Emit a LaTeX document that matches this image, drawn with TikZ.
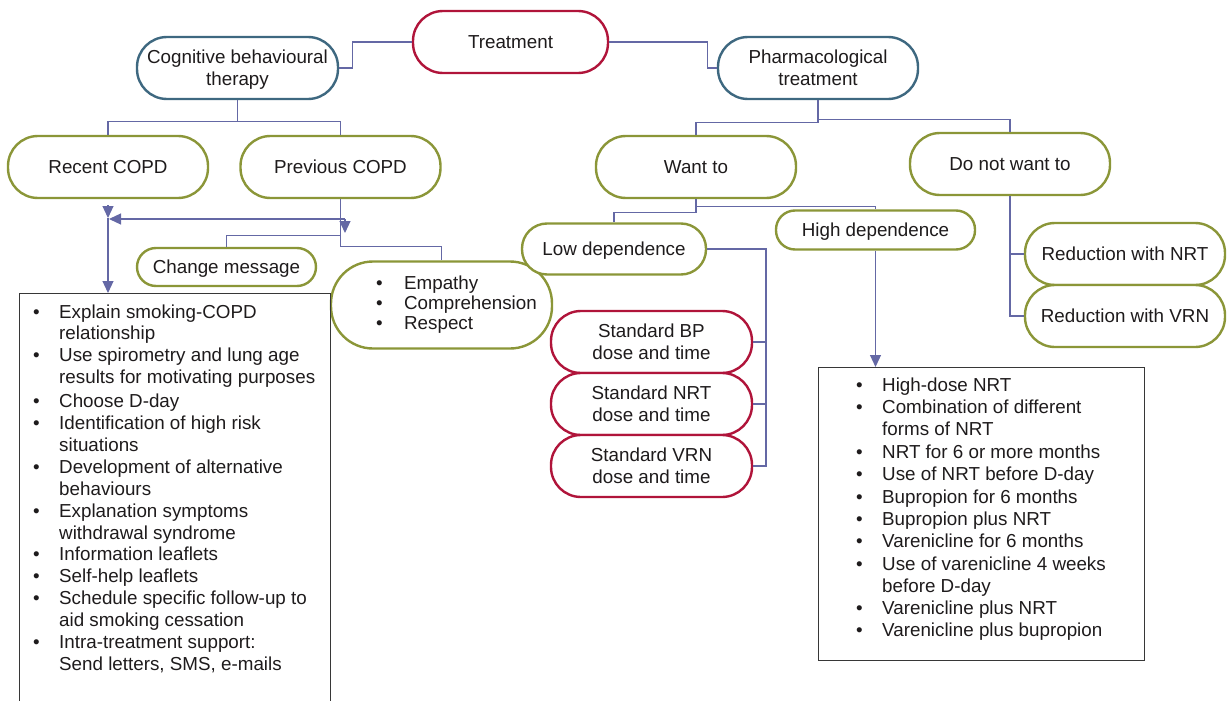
\documentclass[tikz,border=0pt]{standalone}
\usepackage{fontspec}
\setmainfont{Liberation Sans}
\usetikzlibrary{arrows.meta,calc}
\definecolor{cred}{RGB}{176,20,58}
\definecolor{cblue}{RGB}{62,104,128}
\definecolor{colive}{RGB}{139,150,56}
\definecolor{cline}{RGB}{100,104,165}
\definecolor{cbox}{RGB}{55,55,55}
\definecolor{ctext}{RGB}{30,27,28}
\newcommand{\bu}{\makebox[26pt][l]{•}}
\newcommand{\bi}{\hspace*{26pt}}
\begin{document}
\begin{tikzpicture}[x=1pt,y=-1pt,
  every node/.style={font=\fontsize{18.8}{22}\selectfont, text=ctext},
  pill/.style={rectangle, draw, rounded corners=#1pt, line width=2.4pt, fill=white, align=center, inner sep=0pt, text depth=0pt},
  redpill/.style={pill=30, draw=cred, minimum width=200, minimum height=62},
  bluepill/.style={pill=30, draw=cblue, minimum width=201, minimum height=62},
  olivepill/.style={pill=30, draw=colive, minimum width=200, minimum height=62},
  listbox/.style={draw=cbox, line width=1.3pt, anchor=north west, inner sep=0pt},
  conn/.style={draw=cline, line width=1.2pt},
  arr/.style={conn, -{Triangle[length=12pt,width=11pt]}}
]
\useasboundingbox (0,0) rectangle (1229,701);

% top level
\node[redpill, minimum width=195] (treat) at (510.5,42) {Treatment};
\node[bluepill] (cbt) at (237.5,68) {Cognitive behavioural\\therapy};
\node[bluepill, minimum width=200] (pharm) at (818,68) {Pharmacological\\treatment};

% CBT branch
\node[olivepill] (recent) at (108,167) {Recent COPD};
\node[olivepill] (prev) at (340.5,167) {Previous COPD};
\node[pill=19, draw=colive, minimum width=179, minimum height=38] (change) at (226.5,267) {Change message};
\node[pill=42, draw=colive, minimum width=221, minimum height=87, text depth=] (emp) at (441.5,305)
  {\hspace{30pt}\raisebox{-4pt}{\fontsize{18.8}{20}\selectfont\begin{tabular}{@{}l@{}l@{}}
  \makebox[28pt][l]{•} & Empathy\\
  \makebox[28pt][l]{•} & Comprehension\\
  \makebox[28pt][l]{•} & Respect
  \end{tabular}}};

\node[listbox, minimum width=311, minimum height=440] (cbtbox) at (19,293) {};
\node[anchor=base west, inner sep=0pt] (cbtlist) at (33,318) {\parbox[t]{290pt}{\fontsize{18.8}{21.9}\selectfont
\bu Explain smoking-COPD\\
\bi relationship\\
\bu Use spirometry and lung age\\
\bi results for motivating purposes\\[2pt]
\bu Choose D-day\\
\bu Identification of high risk\\
\bi situations\\
\bu Development of alternative\\
\bi behaviours\\
\bu Explanation symptoms\\
\bi withdrawal syndrome\\
\bu Information leaflets\\
\bu Self-help leaflets\\
\bu Schedule specific follow-up to\\
\bi aid smoking cessation\\
\bu Intra-treatment support:\\
\bi Send letters, SMS, e-mails}};

% Pharmacological branch
\node[olivepill] (want) at (696,167) {Want to};
\node[olivepill] (donot) at (1010,164) {Do not want to};
\node[pill=25, draw=colive, minimum width=184, minimum height=51] (low) at (614,249) {Low dependence};
\node[pill=19, draw=colive, minimum width=199, minimum height=39] (high) at (875.5,230) {High dependence};
\node[redpill, minimum width=201] (stdbp) at (651.5,342) {Standard BP\\dose and time};
\node[redpill, minimum width=201] (stdnrt) at (651.5,404) {Standard NRT\\dose and time};
\node[redpill, minimum width=201] (stdvrn) at (651.5,466) {Standard VRN\\dose and time};
\node[olivepill] (rednrt) at (1125,254) {Reduction with NRT};
\node[olivepill] (redvrn) at (1125,316) {Reduction with VRN};

\node[listbox, minimum width=326, minimum height=293] (phbox) at (818,367) {};
\node[anchor=base west, inner sep=0pt] (phlist) at (856,391.5) {\parbox[t]{290pt}{\fontsize{18.8}{22.2}\selectfont
\bu High-dose NRT\\
\bu Combination of different\\
\bi forms of NRT\\
\bu NRT for 6 or more months\\
\bu Use of NRT before D-day\\[1pt]
\bu Bupropion for 6 months\\
\bu Bupropion plus NRT\\
\bu Varenicline for 6 months\\
\bu Use of varenicline 4 weeks\\
\bi before D-day\\
\bu Varenicline plus NRT\\
\bu Varenicline plus bupropion}};

% connectors
\draw[conn] (treat.west) -- ++(-59,0) |- (cbt.east);
\draw[conn] (treat.east) -- ++(98,0) |- (pharm.west);
\draw[conn] (cbt.south) -- ++(0,21) -| (recent.north);
\draw[conn] (cbt.south) -- ++(0,21) -| (prev.north);
\draw[conn] (pharm.south) -- ++(0,22) -| (want.north);
\draw[conn] (pharm.south) -- ++(0,19) -| (donot.north);
\draw[conn] (want.south) -- ++(0,13) -| (low.north);
\draw[conn] (want.south) -- ++(0,7) -| (high.north);
\coordinate (lowbus) at (766,0);
\draw[conn] (low.east) -| (stdvrn.east -| lowbus) -- (stdvrn.east);
\draw[conn] (stdbp.east) -- (stdbp.east -| lowbus);
\draw[conn] (stdnrt.east) -- (stdnrt.east -| lowbus);
\draw[conn] (donot.south) |- (rednrt.west);
\draw[conn] (donot.south) |- (redvrn.west);
\draw[arr] (high.south) -- (high.south |- phbox.north);
\draw[conn] (prev.south) -- ++(0,47) -| (emp.north);
\draw[conn] (prev.south) -- ++(0,36) -| (change.north);

\coordinate (a0) at (108,205);
\coordinate (a1) at (108,218);
\coordinate (j1) at (109,219);
\coordinate (j2) at (345,219);
\draw[arr] (a0) -- (a1);
\draw[arr] (a1) -- (a1 |- cbtbox.north);
\draw[arr] (j2) -- (j1);
\draw[arr] (j2) -- ++(0,14);
\end{tikzpicture}
\end{document}
